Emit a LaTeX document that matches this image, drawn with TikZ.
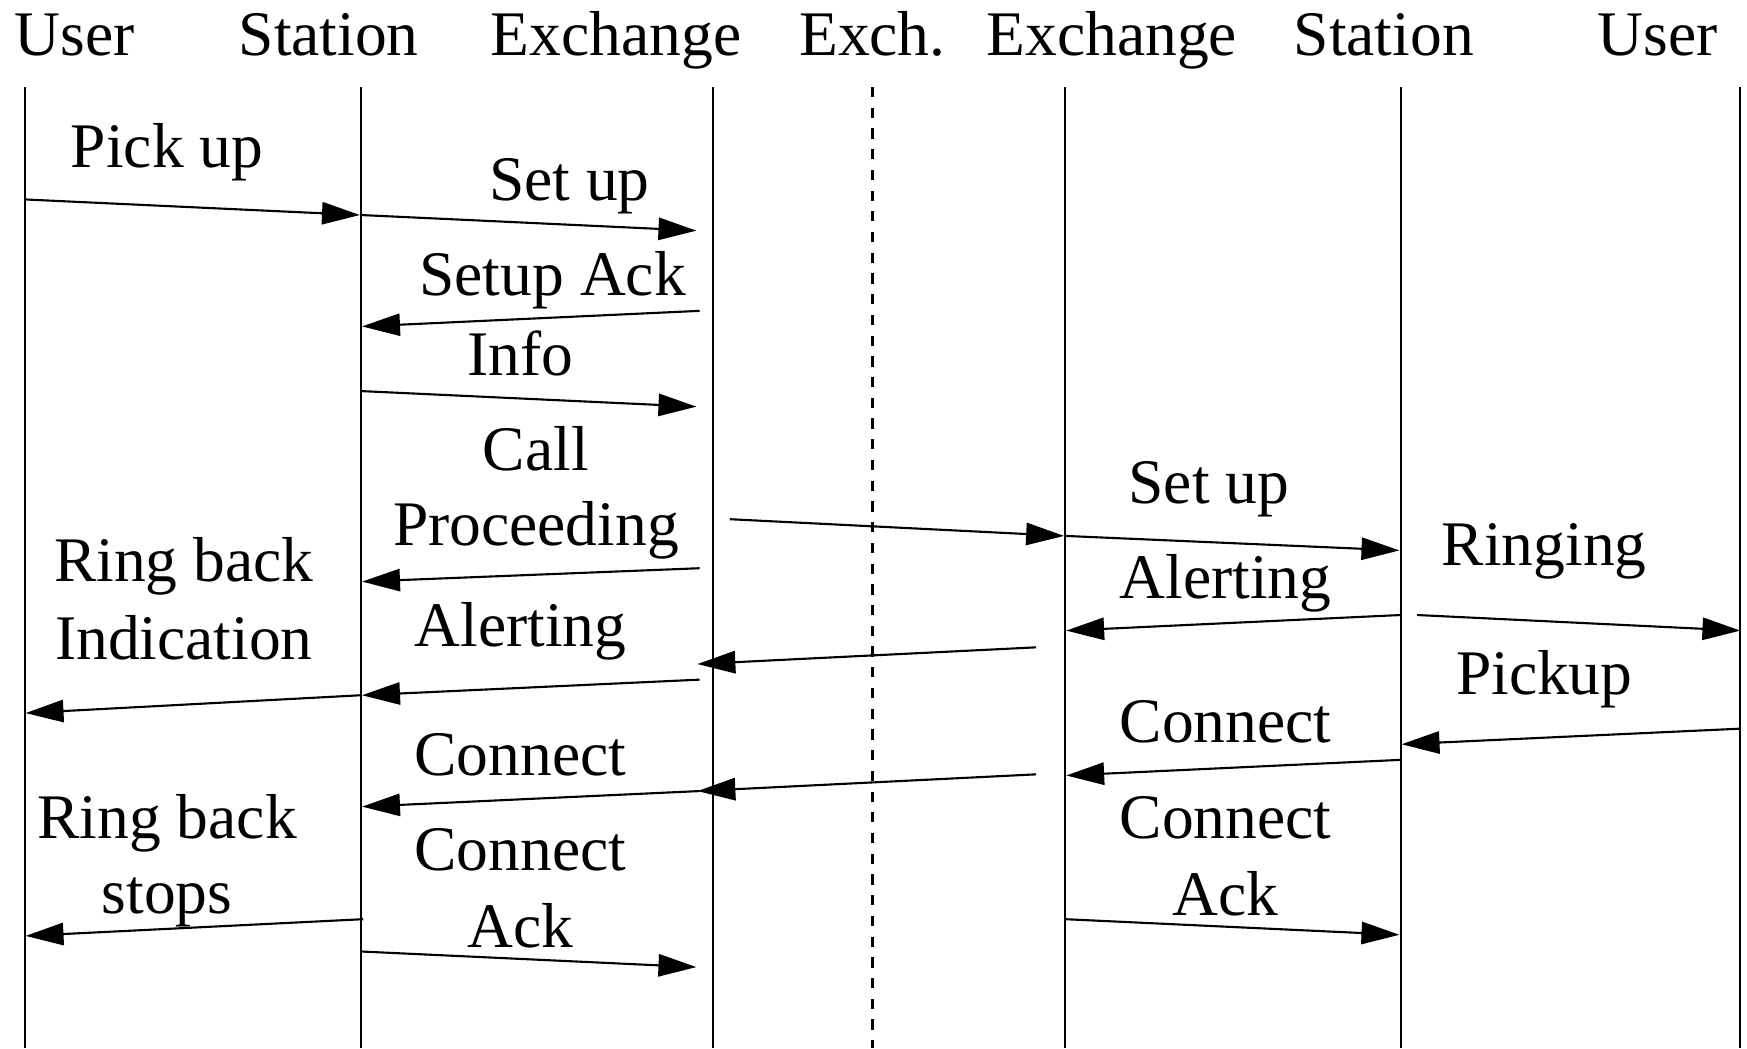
\documentclass[tikz,border=0pt]{standalone}
\usepackage{fontspec}
\setmainfont{Liberation Serif}
\usetikzlibrary{arrows.meta}
\begin{document}
\begin{tikzpicture}[x=0.5pt,y=-0.5pt,
  lbl/.style={anchor=base,inner sep=0pt,align=center,font=\fontsize{28.5}{34}\selectfont},
  life/.style={line width=0.9pt},
  dashlife/.style={line width=1.3pt,dash pattern=on 4.6pt off 4.7pt},
  msg/.style={line width=0.95pt,-{Triangle[length=17pt,width=10pt]}}]
\useasboundingbox (0,0) rectangle (1568,941);
% headers
\node[lbl] (hU1) at (67,50) {User};
\node[lbl] (hS1) at (295,50) {Station};
\node[lbl] (hE1) at (553,50) {Exchange};
\node[lbl] (hX) at (783,50) {Exch.};
\node[lbl] (hE2) at (998,50) {Exchange};
\node[lbl] (hS2) at (1242,50) {Station};
\node[lbl] (hU2) at (1488,50) {User};
% lifelines
\coordinate (U1t) at (22,78);   \coordinate (U1b) at (22,941);
\coordinate (S1t) at (324,78);  \coordinate (S1b) at (324,941);
\coordinate (E1t) at (640,78);  \coordinate (E1b) at (640,941);
\coordinate (Xt) at (783,78);   \coordinate (Xb) at (783,941);
\coordinate (E2t) at (956,78);  \coordinate (E2b) at (956,941);
\coordinate (S2t) at (1257,78); \coordinate (S2b) at (1257,941);
\coordinate (U2t) at (1562,78); \coordinate (U2b) at (1562,941);
\draw[life] (U1t) -- (U1b);
\draw[life] (S1t) -- (S1b);
\draw[life] (E1t) -- (E1b);
\draw[dashlife] (Xt) -- (Xb);
\draw[life] (E2t) -- (E2b);
\draw[life] (S2t) -- (S2b);
\draw[life] (U2t) -- (U2b);
% message end points
\coordinate (a1s) at (22,179);   \coordinate (a1e) at (323,193);
\coordinate (a2s) at (324,193);  \coordinate (a2e) at (625,207);
\coordinate (a3s) at (628,279);  \coordinate (a3e) at (325,293);
\coordinate (a4s) at (324,351);  \coordinate (a4e) at (625,365);
\coordinate (a5s) at (628,510);  \coordinate (a5e) at (325,522);
\coordinate (a6s) at (655,466);  \coordinate (a6e) at (955,481);
\coordinate (a7s) at (956,481);  \coordinate (a7e) at (1256,494);
\coordinate (a8s) at (1257,552); \coordinate (a8e) at (957,566);
\coordinate (a9s) at (1272,552); \coordinate (a9e) at (1562,566);
\coordinate (a10s) at (930,581); \coordinate (a10e) at (626,596);
\coordinate (a11s) at (628,610); \coordinate (a11e) at (325,624);
\coordinate (a12s) at (324,624); \coordinate (a12e) at (23,640);
\coordinate (a13s) at (1562,654);\coordinate (a13e) at (1258,668);
\coordinate (a14s) at (1257,682);\coordinate (a14e) at (957,696);
\coordinate (a15s) at (930,695); \coordinate (a15e) at (626,710);
\coordinate (a16s) at (628,710); \coordinate (a16e) at (325,724);
\coordinate (a17s) at (326,825); \coordinate (a17e) at (23,840);
\coordinate (a18s) at (324,854); \coordinate (a18e) at (625,868);
\coordinate (a19s) at (956,825); \coordinate (a19e) at (1256,839);
\foreach \i in {1,...,19} {\draw[msg] (a\i s) -- (a\i e);}
% labels
\node[lbl] (l1) at (150,150) {Pick up};
\node[lbl] (l2) at (511,180) {Set up};
\node[lbl] (l3) at (496,265) {Setup Ack};
\node[lbl] (l4) at (467,337) {Info};
\node[lbl] (l5a) at (481,422) {Call};
\node[lbl] (l5b) at (481,490) {Proceeding};
\node[lbl] (l7) at (1085,452) {Set up};
\node[lbl] (l8) at (1100,537) {Alerting};
\node[lbl] (l9) at (1386,508) {Ringing};
\node[lbl] (l11) at (467,580) {Alerting};
\node[lbl] (l12a) at (165,522) {Ring back};
\node[lbl] (l12b) at (165,592) {Indication};
\node[lbl] (l13) at (1386,623) {Pickup};
\node[lbl] (l14) at (1100,666) {Connect};
\node[lbl] (l16) at (467,696) {Connect};
\node[lbl] (l17a) at (150,753) {Ring back};
\node[lbl] (l17b) at (150,820) {stops};
\node[lbl] (l18a) at (467,781) {Connect};
\node[lbl] (l18b) at (467,850) {Ack};
\node[lbl] (l19a) at (1100,753) {Connect};
\node[lbl] (l19b) at (1100,822) {Ack};
\end{tikzpicture}
\end{document}
